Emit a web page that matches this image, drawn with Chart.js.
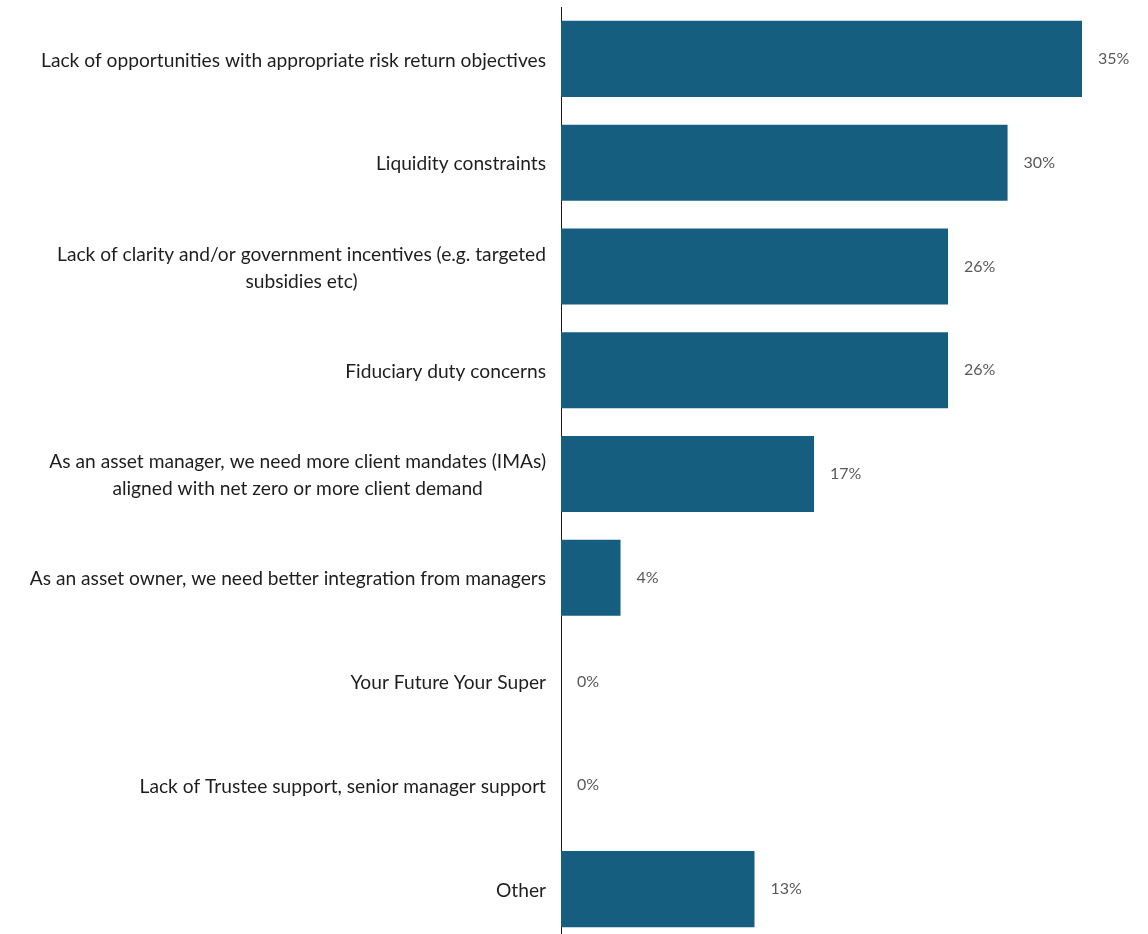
<!DOCTYPE html>
<html>
<head>
<meta charset="utf-8">
<script src="https://cdn.jsdelivr.net/npm/chart.js@4.4.0/dist/chart.umd.min.js"></script>
<style>
  html, body { margin: 0; padding: 0; background: #fff; }
  #wrap { width: 1148px; height: 934px; overflow: hidden; position: relative; }
  #wrap canvas { display: block; }
</style>
</head>
<body>
<div id="wrap">
  <canvas id="barriers" width="1148" height="945"></canvas>
</div>
<script>
const categories = [
  ['Lack of opportunities with appropriate risk return objectives'],
  ['Liquidity constraints'],
  ['Lack of clarity and/or government incentives (e.g. targeted', 'subsidies etc)'],
  ['Fiduciary duty concerns'],
  ['As an asset manager, we need more client mandates (IMAs)', 'aligned with net zero or more client demand'],
  ['As an asset owner, we need better integration from managers'],
  ['Your Future Your Super'],
  ['Lack of Trustee support, senior manager support'],
  ['Other'],
];
const shares = [35, 30, 26, 26, 17, 4, 0, 0, 13];

const LABEL_FONT = '19.2px Lato, "Open Sans", sans-serif';
const VALUE_FONT = '16px Lato, "Open Sans", sans-serif';

// category labels: each line centred on the widest line, block right-aligned to the axis
const categoryLabels = {
  id: 'categoryLabels',
  afterDraw(chart) {
    const { ctx } = chart;
    const yScale = chart.scales.y;
    const right = chart.chartArea.left - 15;
    const lineHeight = 27;
    ctx.save();
    ctx.font = LABEL_FONT;
    ctx.fillStyle = '#1e1e1e';
    ctx.textAlign = 'center';
    ctx.textBaseline = 'middle';
    categories.forEach((lines, i) => {
      const cy = yScale.getPixelForValue(i) + 1.5;
      const widest = Math.max(...lines.map((l) => ctx.measureText(l).width));
      const cx = right - widest / 2;
      const top = cy - ((lines.length - 1) * lineHeight) / 2;
      lines.forEach((l, j) => ctx.fillText(l, cx, top + j * lineHeight));
    });
    ctx.restore();
  },
};

// value labels just past the end of each bar
const valueLabels = {
  id: 'valueLabels',
  afterDatasetsDraw(chart) {
    const { ctx } = chart;
    const meta = chart.getDatasetMeta(0);
    ctx.save();
    ctx.font = VALUE_FONT;
    ctx.fillStyle = '#595959';
    ctx.textAlign = 'left';
    ctx.textBaseline = 'middle';
    meta.data.forEach((bar, i) => {
      ctx.fillText(shares[i] + '%', bar.x + 16, bar.y);
    });
    ctx.restore();
  },
};

new Chart(document.getElementById('barriers'), {
  type: 'bar',
  data: {
    labels: categories,
    datasets: [{
      data: shares,
      backgroundColor: '#165e80',
      borderWidth: 0,
      categoryPercentage: 1,
      barPercentage: 0.733,
    }],
  },
  options: {
    indexAxis: 'y',
    responsive: false,
    animation: false,
    layout: { padding: { left: 561, right: 66, top: 7, bottom: 4 } },
    plugins: { legend: { display: false }, tooltip: { enabled: false } },
    scales: {
      x: {
        min: 0,
        max: 35,
        display: false,
      },
      y: {
        grid: { display: false, drawTicks: false },
        ticks: { display: false },
        border: { display: true, color: '#1a1a1a', width: 1 },
      },
    },
  },
  plugins: [categoryLabels, valueLabels],
});
</script>
</body>
</html>
